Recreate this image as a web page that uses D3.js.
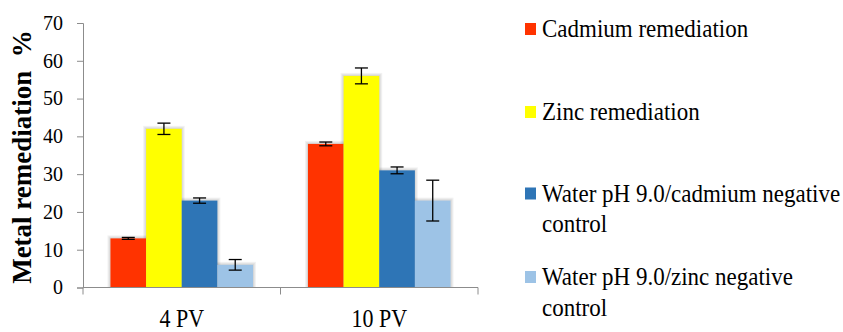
<!DOCTYPE html>
<html>
<head>
<meta charset="utf-8">
<script src="https://cdn.jsdelivr.net/npm/d3@7"></script>
<style>
  html, body { margin: 0; padding: 0; background: #ffffff; }
  svg { display: block; }
</style>
</head>
<body>
<svg id="chart" width="843" height="332"></svg>
<script>
// Categories (pore volumes) and series
const categories = ["4 PV", "10 PV"];
const seriesNames = [
  "Cadmium remediation",
  "Zinc remediation",
  "Water pH 9.0/cadmium negative control",
  "Water pH 9.0/zinc negative control"
];
const legendLines = [
  ["Cadmium remediation"],
  ["Zinc remediation"],
  ["Water pH 9.0/cadmium negative", "control"],
  ["Water pH 9.0/zinc negative", "control"]
];
const seriesColors = ["#FF3300", "#FFFF00", "#2E75B6", "#9DC3E6"];

// Mean remediation (%) per category, and error half-widths
const cadmium = [13, 38];
const cadmiumErr = [0.25, 0.5];
const zinc = [42, 56];
const zincErr = [1.5, 2.1];
const waterCadmium = [23, 31];
const waterCadmiumErr = [0.7, 0.9];
const waterZinc = [6, 23];
const waterZincErr = [1.4, 5.4];

const yTicks = [0, 10, 20, 30, 40, 50, 60, 70];

const FONT = "\"Liberation Serif\"";
const STRETCH = 1.12; // tall serif lettering of legend and category labels

const seriesValues = [cadmium, zinc, waterCadmium, waterZinc];
const seriesErrors = [cadmiumErr, zincErr, waterCadmiumErr, waterZincErr];

const rows = [];
categories.forEach((c, ci) => {
  seriesNames.forEach((s, si) => {
    rows.push({ category: c, series: s, si, value: seriesValues[si][ci], err: seriesErrors[si][ci] });
  });
});

const svg = d3.select("#chart");
const plot = { left: 83, right: 478, top: 23, bottom: 287.5 };

const x0 = d3.scaleBand().domain(categories).range([plot.left, plot.right]);
const x1 = d3.scaleBand().domain(seriesNames).range([0, x0.bandwidth()])
  .paddingInner(0).paddingOuter(0.77);
const y = d3.scaleLinear().domain([0, 70]).range([plot.bottom, plot.top]);
const color = d3.scaleOrdinal().domain(seriesNames).range(seriesColors);

// Y axis
const yAxis = svg.append("g")
  .attr("transform", `translate(${plot.left},0)`)
  .call(d3.axisLeft(y).tickValues(yTicks).tickSize(6).tickPadding(14));
yAxis.attr("font-family", null).attr("font-size", null);
yAxis.select(".domain").attr("stroke", "#8c8c8c").attr("stroke-width", 1);
yAxis.selectAll(".tick line").attr("stroke", "#8c8c8c");
yAxis.selectAll(".tick text")
  .style("font-family", FONT).style("font-size", "20px").attr("fill", "#000");

// Soft grey halo behind each bar (layered translucent outlines)
const halo = svg.append("g");
[3, 2, 1].forEach(pad => {
  halo.append("g").selectAll("rect")
    .data(rows)
    .join("rect")
    .attr("x", d => x0(d.category) + x1(d.series) - pad)
    .attr("y", d => y(d.value) - pad)
    .attr("width", x1.bandwidth() + 2 * pad)
    .attr("height", d => y(0) - y(d.value) + pad)
    .attr("fill", "#000")
    .attr("fill-opacity", 0.05);
});

// Bars
svg.append("g").selectAll("rect")
  .data(rows)
  .join("rect")
  .attr("x", d => x0(d.category) + x1(d.series))
  .attr("y", d => y(d.value))
  .attr("width", x1.bandwidth())
  .attr("height", d => y(0) - y(d.value))
  .attr("fill", d => color(d.series));

// X axis
const xAxis = svg.append("g").attr("transform", `translate(0,${plot.bottom})`);
xAxis.append("line")
  .attr("x1", plot.left).attr("x2", plot.right)
  .attr("stroke", "#8c8c8c").attr("stroke-width", 1);
const boundaries = [plot.left].concat(categories.map(c => x0(c) + x0.bandwidth()));
xAxis.selectAll("line.tk").data(boundaries).join("line")
  .attr("class", "tk")
  .attr("x1", d => d).attr("x2", d => d).attr("y1", 0).attr("y2", 7)
  .attr("stroke", "#8c8c8c");
xAxis.selectAll("text").data(categories).join("text")
  .attr("transform", d => `translate(${x0(d) + x0.bandwidth() / 2},39.5) scale(1,${STRETCH})`)
  .attr("text-anchor", "middle")
  .style("font-family", FONT)
  .style("font-size", "22px")
  .text(d => d);

// Error bars
const cap = 6.5;
const eb = svg.append("g").attr("stroke", "#000").attr("stroke-width", 1.3);
rows.forEach(d => {
  const cx = x0(d.category) + x1(d.series) + x1.bandwidth() / 2;
  const yHi = y(d.value + d.err), yLo = y(d.value - d.err);
  eb.append("line").attr("x1", cx).attr("x2", cx).attr("y1", yHi).attr("y2", yLo);
  eb.append("line").attr("x1", cx - cap).attr("x2", cx + cap).attr("y1", yHi).attr("y2", yHi);
  eb.append("line").attr("x1", cx - cap).attr("x2", cx + cap).attr("y1", yLo).attr("y2", yLo);
});

// Y axis title
svg.append("text")
  .attr("transform", "translate(31,157) rotate(-90)")
  .attr("text-anchor", "middle")
  .style("font-family", FONT)
  .style("font-size", "27px")
  .style("font-weight", "bold")
  .style("white-space", "pre")
  .text("Metal remediation  %");

// Legend
const legendBaseline = [37, 120, 201.5, 285];
const legend = svg.append("g");
seriesNames.forEach((s, i) => {
  const base = legendBaseline[i];
  legend.append("rect")
    .attr("x", 525).attr("y", base - 14)
    .attr("width", 11).attr("height", 12)
    .attr("fill", color(s));
  const t = legend.append("text")
    .attr("transform", `translate(542,${base}) scale(1,${STRETCH})`)
    .style("font-family", FONT).style("font-size", "23px");
  legendLines[i].forEach((line, li) => {
    t.append("tspan").attr("x", 0).attr("y", li * 31 / STRETCH).text(line);
  });
});
</script>
</body>
</html>
